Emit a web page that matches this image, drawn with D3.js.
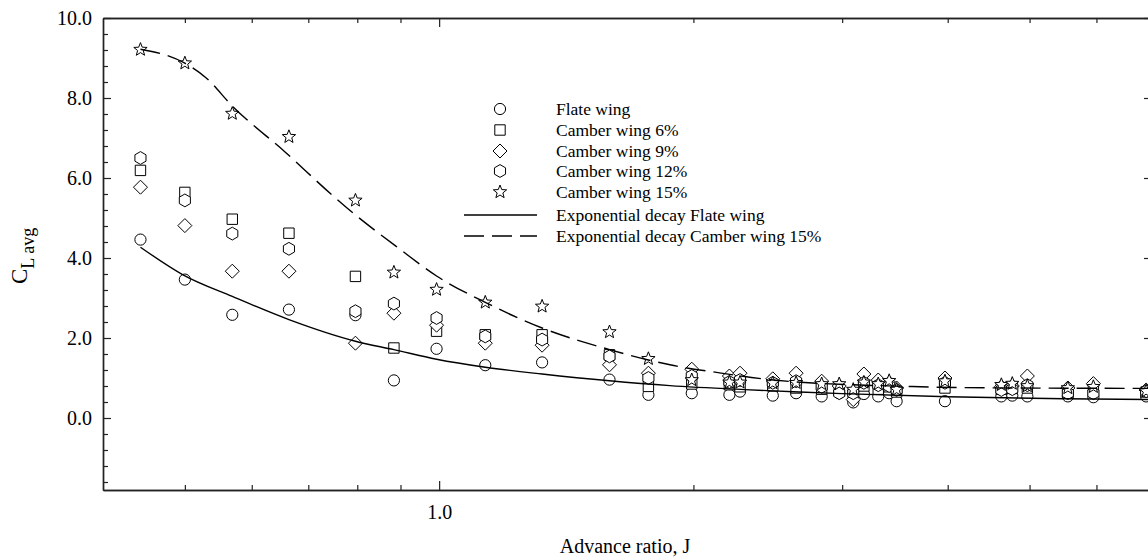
<!DOCTYPE html>
<html>
<head>
<meta charset="utf-8">
<script src="https://cdn.jsdelivr.net/npm/d3@7"></script>
<style>
  body { margin: 0; background: #fff; }
  svg text { font-family: "Liberation Serif", "Times New Roman", serif; fill: #000; }
</style>
</head>
<body>
<div id="chart"></div>
<script>
// advance ratio of each measured column
const J = [0.443, 0.50, 0.569, 0.664, 0.796, 0.884, 0.993, 1.134, 1.324, 1.591,
  1.769, 1.991, 2.206, 2.271, 2.483, 2.646, 2.837, 2.976, 3.092, 3.183,
  3.31, 3.41, 3.48, 3.97, 4.63, 4.77, 4.97, 5.55, 5.95, 6.87];

const flatWing = [4.46, 3.46, 2.58, 2.71, 2.57, 0.94, 1.73, 1.32, 1.39, 0.96,
  0.58, 0.62, 0.58, 0.66, 0.56, 0.62, 0.54, 0.62, 0.39, 0.60,
  0.54, 0.62, 0.42, 0.42, 0.54, 0.56, 0.54, 0.54, 0.52, 0.54];
const camber6 = [6.19, 5.64, 4.97, 4.62, 3.54, 1.75, 2.17, 2.08, 2.08, 1.58,
  0.79, 0.85, 0.83, 0.78, 0.80, 0.75, 0.72, 0.70, 0.60, 0.80,
  0.72, 0.78, 0.65, 0.75, 0.72, 0.74, 0.75, 0.65, 0.70, 0.65];
const camber9 = [5.77, 4.81, 3.67, 3.67, 1.87, 2.62, 2.32, 1.87, 1.82, 1.33,
  1.12, 1.22, 1.05, 1.12, 0.98, 1.12, 0.92, 0.80, 0.46, 1.10,
  0.95, 0.88, 0.75, 1.00, 0.78, 0.80, 1.05, 0.75, 0.86, 0.70];
const camber12 = [6.50, 5.44, 4.61, 4.23, 2.67, 2.86, 2.50, 2.04, 1.96, 1.54,
  1.00, 1.05, 0.90, 0.95, 0.88, 0.92, 0.78, 0.62, 0.62, 0.88,
  0.82, 0.80, 0.70, 0.88, 0.70, 0.72, 0.82, 0.62, 0.62, 0.67];
const camber15 = [9.21, 8.87, 7.61, 7.03, 5.44, 3.64, 3.21, 2.89, 2.79, 2.15,
  1.48, 0.95, 0.89, 0.89, 0.875, 0.88, 0.85, 0.85, 0.71, 0.89,
  0.85, 0.93, 0.71, 0.92, 0.83, 0.86, 0.80, 0.75, 0.78, 0.67];

// fitted curves
const fitFlatJ = [0.443, 0.4975, 0.569, 0.664, 0.796, 0.884, 0.993, 1.134, 1.324, 1.591, 1.876, 2.3, 2.67, 3.0, 4.0, 5.5, 7.0];
const fitFlatC = [4.27, 3.58, 3.04, 2.46, 1.92, 1.71, 1.47, 1.27, 1.10, 0.93, 0.81, 0.71, 0.65, 0.61, 0.53, 0.48, 0.46];
const fitCamberJ = [0.443, 0.5, 0.53, 0.569, 0.658, 0.75, 0.778, 0.9, 0.993, 1.134, 1.324, 1.591, 1.769, 1.876, 2.13, 2.487, 3.575, 4.14, 7.0];
const fitCamberC = [9.22, 8.87, 8.5, 7.8, 6.64, 5.54, 5.25, 4.21, 3.55, 2.89, 2.25, 1.71, 1.45, 1.33, 1.14, 0.95, 0.79, 0.76, 0.74];

const legendNames = ["Flate wing", "Camber wing 6%", "Camber wing 9%", "Camber wing 12%", "Camber wing 15%"];
const lineNames = ["Exponential decay Flate wing", "Exponential decay Camber wing 15%"];

const width = 1148, height = 558;
const margin = { left: 103, right: -5, top: 18, bottom: 68 };

const svg = d3.select("#chart").append("svg")
  .attr("width", width)
  .attr("height", height);

const x = d3.scaleLog().domain([0.4, 7]).range([margin.left, width - margin.right]);
const y = d3.scaleLinear().domain([-1.8, 10]).range([height - margin.bottom, margin.top]);

// marker shapes
function circleSym(r) { return { draw(c) { c.moveTo(r, 0); c.arc(0, 0, r, 0, 2 * Math.PI); } }; }
function squareSym(h) { return { draw(c) { c.rect(-h, -h, 2 * h, 2 * h); } }; }
function diamondSym(r) { return { draw(c) { c.moveTo(0, -r); c.lineTo(r, 0); c.lineTo(0, r); c.lineTo(-r, 0); c.closePath(); } }; }
function hexSym(r) {
  return { draw(c) {
    for (let i = 0; i < 6; i++) {
      const a = -Math.PI / 2 + i * Math.PI / 3;
      if (i === 0) c.moveTo(r * Math.cos(a), r * Math.sin(a)); else c.lineTo(r * Math.cos(a), r * Math.sin(a));
    }
    c.closePath();
  } };
}
function starSym(ro, ri) {
  return { draw(c) {
    for (let i = 0; i < 10; i++) {
      const a = -Math.PI / 2 + i * Math.PI / 5;
      const r = i % 2 ? ri : ro;
      if (i === 0) c.moveTo(r * Math.cos(a), r * Math.sin(a)); else c.lineTo(r * Math.cos(a), r * Math.sin(a));
    }
    c.closePath();
  } };
}
const symbols = [circleSym(5.6), squareSym(5.2), diamondSym(7), hexSym(6.4), starSym(7, 3)];
const seriesVals = [flatWing, camber6, camber9, camber12, camber15];

// axes
const majorX = [1];
const minorX = [0.5, 0.6, 0.7, 0.8, 0.9, 2, 3, 4, 5, 6];
const majorY = [0, 2, 4, 6, 8, 10];
const minorY = d3.range(-1.6, 10, 0.4).filter(v => Math.abs(v / 2 - Math.round(v / 2)) > 0.01);

function styleAxis(g) {
  g.select(".domain").attr("stroke", "#222").attr("stroke-width", 1.4);
  g.selectAll(".tick line").attr("stroke", "#222").attr("stroke-width", 1.2);
  g.selectAll("text").attr("font-size", 20).attr("font-family", '"Liberation Serif", serif').attr("fill", "#000");
}

const bottom = height - margin.bottom;
const right = width - margin.right;

svg.append("g").attr("transform", `translate(0,${bottom})`)
  .call(d3.axisBottom(x).tickValues(minorX).tickSize(-5).tickSizeOuter(0).tickFormat(""))
  .call(styleAxis);
svg.append("g").attr("transform", `translate(0,${bottom})`)
  .call(d3.axisBottom(x).tickValues(majorX).tickSize(-9).tickSizeOuter(0).tickPadding(15).tickFormat(d3.format(".1f")))
  .call(styleAxis);
svg.append("g").attr("transform", `translate(0,${margin.top})`)
  .call(d3.axisTop(x).tickValues(minorX).tickSize(-5).tickSizeOuter(0).tickFormat(""))
  .call(styleAxis);
svg.append("g").attr("transform", `translate(0,${margin.top})`)
  .call(d3.axisTop(x).tickValues(majorX).tickSize(-9).tickSizeOuter(0).tickFormat(""))
  .call(styleAxis);

svg.append("g").attr("transform", `translate(${margin.left},0)`)
  .call(d3.axisLeft(y).tickValues(minorY).tickSize(-5).tickSizeOuter(0).tickFormat(""))
  .call(styleAxis);
svg.append("g").attr("transform", `translate(${margin.left},0)`)
  .call(d3.axisLeft(y).tickValues(majorY).tickSize(-8).tickSizeOuter(0).tickPadding(11).tickFormat(d3.format(".1f")))
  .call(styleAxis);
svg.append("g").attr("transform", `translate(${right},0)`)
  .call(d3.axisRight(y).tickValues(minorY).tickSize(-5).tickSizeOuter(0).tickFormat(""))
  .call(styleAxis);
svg.append("g").attr("transform", `translate(${right},0)`)
  .call(d3.axisRight(y).tickValues(majorY).tickSize(-9).tickSizeOuter(0).tickFormat(""))
  .call(styleAxis);

// axis titles
svg.append("text")
  .attr("x", 625).attr("y", 553)
  .attr("text-anchor", "middle")
  .attr("font-size", 20)
  .text("Advance ratio, J");

const yTitle = svg.append("text")
  .attr("transform", "translate(27,284) rotate(-90)")
  .attr("font-size", 23);
yTitle.append("tspan").text("C");
yTitle.append("tspan").attr("dy", 7).attr("font-size", 18).text("L avg");

// markers
const symGen = d3.symbol();
seriesVals.forEach((vals, si) => {
  svg.append("g")
    .selectAll("path")
    .data(J.map((j, i) => ({ j, v: vals[i] })))
    .join("path")
    .attr("transform", d => `translate(${x(d.j)},${y(d.v)})`)
    .attr("d", symGen.type(symbols[si])())
    .attr("fill", "#fff")
    .attr("stroke", "#000")
    .attr("stroke-width", 1);
});

// fitted curves
const line = d3.line().x(d => x(d[0])).y(d => y(d[1])).curve(d3.curveMonotoneX);
svg.append("path")
  .attr("d", line(fitFlatJ.map((j, i) => [j, fitFlatC[i]])))
  .attr("fill", "none").attr("stroke", "#000").attr("stroke-width", 1.4);
svg.append("path")
  .attr("d", line(fitCamberJ.map((j, i) => [j, fitCamberC[i]])))
  .attr("fill", "none").attr("stroke", "#000").attr("stroke-width", 1.4)
  .attr("stroke-dasharray", "20,8");

// legend
const legY = [109, 130, 151, 171, 192];
const legend = svg.append("g");
legendNames.forEach((name, i) => {
  legend.append("path")
    .attr("transform", `translate(500,${legY[i]})`)
    .attr("d", symGen.type(symbols[i])())
    .attr("fill", "#fff").attr("stroke", "#000").attr("stroke-width", 1);
  legend.append("text").attr("x", 556).attr("y", legY[i] + 6).attr("font-size", 17.5).text(name);
});
const lineY = [215, 236];
lineNames.forEach((name, i) => {
  legend.append("line")
    .attr("x1", 464).attr("x2", 537).attr("y1", lineY[i]).attr("y2", lineY[i])
    .attr("stroke", "#000").attr("stroke-width", 1.4)
    .attr("stroke-dasharray", i === 1 ? "20,8" : null);
  legend.append("text").attr("x", 556).attr("y", lineY[i] + 6).attr("font-size", 17.5).text(name);
});
</script>
</body>
</html>
